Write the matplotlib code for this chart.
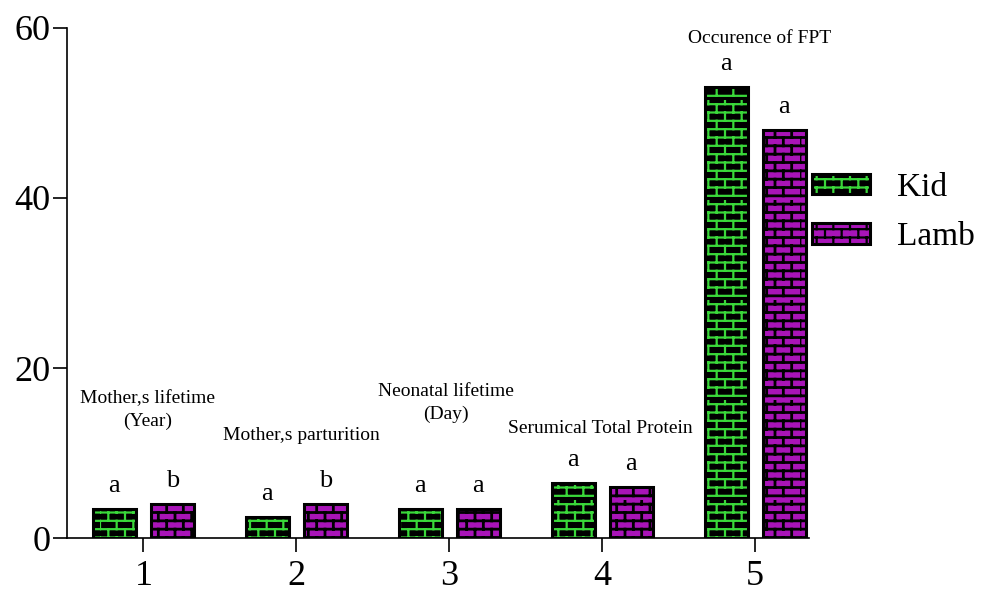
import warnings
import numpy as np
import matplotlib
matplotlib.use("Agg")
import matplotlib.pyplot as plt
from matplotlib import hatch as mhatch
from matplotlib.path import Path
from matplotlib.legend_handler import HandlerTuple

warnings.filterwarnings("ignore")

# data
groups = [1, 2, 3, 4, 5]
kid = [3.4, 2.5, 3.4, 6.5, 53.0]
lamb = [4.0, 4.0, 3.4, 6.0, 48.0]
kid_sig = ["a", "a", "a", "a", "a"]
lamb_sig = ["b", "b", "a", "a", "a"]
cat_labels = ["Mother,s lifetime\n(Year)", "Mother,s parturition",
              "Neonatal lifetime\n(Day)", "Serumical Total Protein",
              "Occurence of FPT"]
cat_pos = [(1.03, 15.1), (2.03, 12.1), (2.98, 15.9), (3.99, 12.9), (5.03, 58.8)]

green = "#3ad83a"
purple = "#a814b8"


# brick hatch (mortar lines), registered as hatch char 'B'
class BrickHatch(mhatch.HatchPatternBase):
    def __init__(self, hatch, density):
        self.rows = 12 if "B" in hatch else 0
        self.cols = 6
        self.num_lines = self.rows * (1 + self.cols)
        self.num_vertices = self.num_lines * 2

    def set_vertices_and_codes(self, vertices, codes):
        pts = []
        for i in range(self.rows):
            y0 = (i + 0.5) / self.rows
            y1 = (i + 1.5) / self.rows
            pts += [(0, y0), (1, y0)]
            shift = 0.5 / self.cols if i % 2 else 0
            for j in range(self.cols):
                xx = j / self.cols + shift
                pts += [(xx, y0), (xx, min(y1, 1.0))]
        vertices[:] = pts
        codes[0::2] = Path.MOVETO
        codes[1::2] = Path.LINETO


mhatch._hatch_types.append(BrickHatch)

plt.rcParams["font.family"] = ["Liberation Serif", "DejaVu Serif"]
plt.rcParams["hatch.linewidth"] = 1.6

fig = plt.figure(figsize=(9.84, 5.92), dpi=100)
ax = fig.add_axes([0.068, 0.091, 0.754, 0.862])

x = np.array(groups)
w = 0.28
off = 0.19

hk = ax.bar(x - off, kid, w, color="black", edgecolor=green, hatch="B", lw=0)
bk = ax.bar(x - off, kid, w, fill=False, edgecolor="black", lw=2.2)
hl = ax.bar(x + off, lamb, w, color=purple, edgecolor="black", hatch="B", lw=0)
bl = ax.bar(x + off, lamb, w, fill=False, edgecolor="black", lw=2.2)
for p in hl:
    if hasattr(p, "set_hatch_linewidth"):
        p.set_hatch_linewidth(2.0)

for xi, v, s in zip(x - off, kid, kid_sig):
    ax.text(xi, v + 2, s, ha="center", va="baseline", fontsize=19)
for xi, v, s in zip(x + off, lamb, lamb_sig):
    ax.text(xi, v + 2, s, ha="center", va="baseline", fontsize=19)

for lab, (tx, ty) in zip(cat_labels, cat_pos):
    ax.text(tx, ty, lab, ha="center", va="center", fontsize=14,
            linespacing=1.4)

ax.set_xlim(0.5, 5.35)
ax.set_ylim(0, 60)
ax.set_xticks(groups)
ax.set_yticks([0, 20, 40, 60])
ax.spines[["top", "right"]].set_visible(False)
ax.spines[["left", "bottom"]].set_linewidth(1.2)
ax.tick_params(axis="both", labelsize=26, length=10, width=1.2)
ax.tick_params(axis="y", pad=2)
ax.tick_params(axis="x", pad=6)

fig.legend([(hk[0], bk[0]), (hl[0], bl[0])], ["Kid", "Lamb"],
           handler_map={tuple: HandlerTuple(ndivide=1, pad=0)},
           loc="upper left", bbox_to_anchor=(812 / 984, 1 - 172 / 592),
           frameon=False, fontsize=24, handlelength=1.75, handleheight=0.55,
           handletextpad=0.8, labelspacing=0.58, borderpad=0, borderaxespad=0)

fig.savefig("out.png", dpi=100)
